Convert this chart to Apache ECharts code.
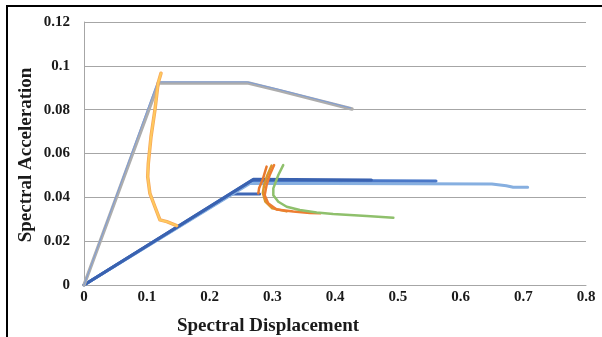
<!DOCTYPE html>
<html>
<head>
<meta charset="utf-8">
<script src="https://cdn.jsdelivr.net/npm/echarts@6/dist/echarts.min.js"></script>
<style>
html, body { margin: 0; padding: 0; background: #fff; }
#main { width: 602px; height: 337px; }
</style>
</head>
<body>
<div id="main"></div>
<script>
// capacity curves (spectral displacement / spectral acceleration)
const grayCapX = [0, 0.119, 0.262, 0.31, 0.427];
const grayCapY = [0, 0.0922, 0.0922, 0.0888, 0.0803];
const grayEdgeX = [0, 0.117, 0.26, 0.31, 0.425];
const grayEdgeY = [0, 0.0927, 0.0927, 0.0893, 0.0808];

const navyCapX = [0, 0.27, 0.458];
const navyCapY = [0, 0.0482, 0.0479];
const blueCapX = [0, 0.268, 0.561];
const blueCapY = [0, 0.0478, 0.0474];
const lightCapX = [0, 0.265, 0.65, 0.673, 0.684, 0.707];
const lightCapY = [0, 0.0464, 0.0461, 0.0453, 0.0446, 0.0446];
const shortCapX = [0, 0.235, 0.28];
const shortCapY = [0, 0.0415, 0.0415];

// demand curves
const yellowDemX = [0.1227, 0.118, 0.113, 0.1068, 0.1025, 0.1015, 0.105, 0.113, 0.121, 0.132, 0.1477];
const yellowDemY = [0.0966, 0.092, 0.0798, 0.0677, 0.0555, 0.0494, 0.0418, 0.0357, 0.0297, 0.0289, 0.0271];

const orangeAX = [0.291, 0.2845, 0.279, 0.2778];
const orangeAY = [0.054, 0.0479, 0.0441, 0.0418];
const goldDemX = [0.299, 0.292, 0.287, 0.285, 0.289, 0.3, 0.323];
const goldDemY = [0.0545, 0.05, 0.0456, 0.042, 0.038, 0.035, 0.0336];
const orangeBX = [0.303, 0.296, 0.291, 0.288, 0.2935, 0.307, 0.3335, 0.36, 0.376];
const orangeBY = [0.0547, 0.0502, 0.0456, 0.041, 0.0373, 0.0345, 0.0335, 0.0329, 0.0327];
const greenDemX = [0.3175, 0.3097, 0.3017, 0.3017, 0.3097, 0.323, 0.344, 0.3708, 0.397, 0.4505, 0.493];
const greenDemY = [0.0547, 0.0502, 0.0441, 0.041, 0.038, 0.0357, 0.0342, 0.0331, 0.0324, 0.0315, 0.0307];

function pairs(xs, ys) {
    return xs.map((x, i) => [x, ys[i]]);
}

function line(xs, ys, color, width) {
    return {
        type: "line",
        data: pairs(xs, ys),
        showSymbol: false,
        silent: true,
        lineStyle: { color: color, width: width, cap: "round", join: "round" },
    };
}

const serif = "'Liberation Serif', 'Times New Roman', serif";
const myChart = echarts.init(document.getElementById("main"));
const option = {
    animation: false,
    grid: { left: 84, right: 16, top: 22, bottom: 52 },
    xAxis: {
        type: "value",
        min: 0,
        max: 0.8,
        interval: 0.1,
        axisLine: { lineStyle: { color: "#a6a6a6", width: 1 } },
        axisTick: { show: false },
        splitLine: { show: false },
        axisLabel: { margin: 5, fontFamily: serif, fontWeight: "bold", fontSize: 15, color: "#1a1a1a" },
    },
    yAxis: {
        type: "value",
        min: 0,
        max: 0.12,
        interval: 0.02,
        axisLine: { show: true, lineStyle: { color: "#a6a6a6", width: 1 } },
        axisTick: { show: false },
        splitLine: { lineStyle: { color: "#a6a6a6", width: 1 } },
        axisLabel: { margin: 14, fontFamily: serif, fontWeight: "bold", fontSize: 15, color: "#1a1a1a" },
    },
    graphic: [
        { type: "line", shape: { x1: 7, y1: 6, x2: 7, y2: 337 }, style: { stroke: "#000", lineWidth: 2 } },
        { type: "line", shape: { x1: 6, y1: 6, x2: 602, y2: 6 }, style: { stroke: "#000", lineWidth: 2 } },
        {
            type: "text", x: 268, y: 326,
            style: { text: "Spectral Displacement", font: "bold 19px " + serif, fill: "#1a1a1a", align: "center", verticalAlign: "middle" },
        },
        {
            type: "text", x: 26, y: 155, rotation: Math.PI / 2,
            style: { text: "Spectral Acceleration", font: "bold 19px " + serif, fill: "#1a1a1a", align: "center", verticalAlign: "middle" },
        },
    ],
    series: [
        line(shortCapX, shortCapY, "#3f67b5", 3),
        line(lightCapX, lightCapY, "#86afe0", 3),
        line(blueCapX, blueCapY, "#4a78c8", 3),
        line(navyCapX, navyCapY, "#3a62b0", 3),
        line(grayCapX, grayCapY, "#adadad", 3.5),
        line(grayEdgeX, grayEdgeY, "#7f9dd6", 1),
        line(yellowDemX, yellowDemY, "#f6a85a", 3.5),
        line(yellowDemX, yellowDemY, "#ffc95e", 2),
        line(orangeAX, orangeAY, "#e9782c", 2.5),
        line(goldDemX, goldDemY, "#d9962a", 2.5),
        line(orangeBX, orangeBY, "#ed7d31", 2.5),
        line(greenDemX, greenDemY, "#8fc06c", 2.5),
    ],
};
myChart.setOption(option);
</script>
</body>
</html>
